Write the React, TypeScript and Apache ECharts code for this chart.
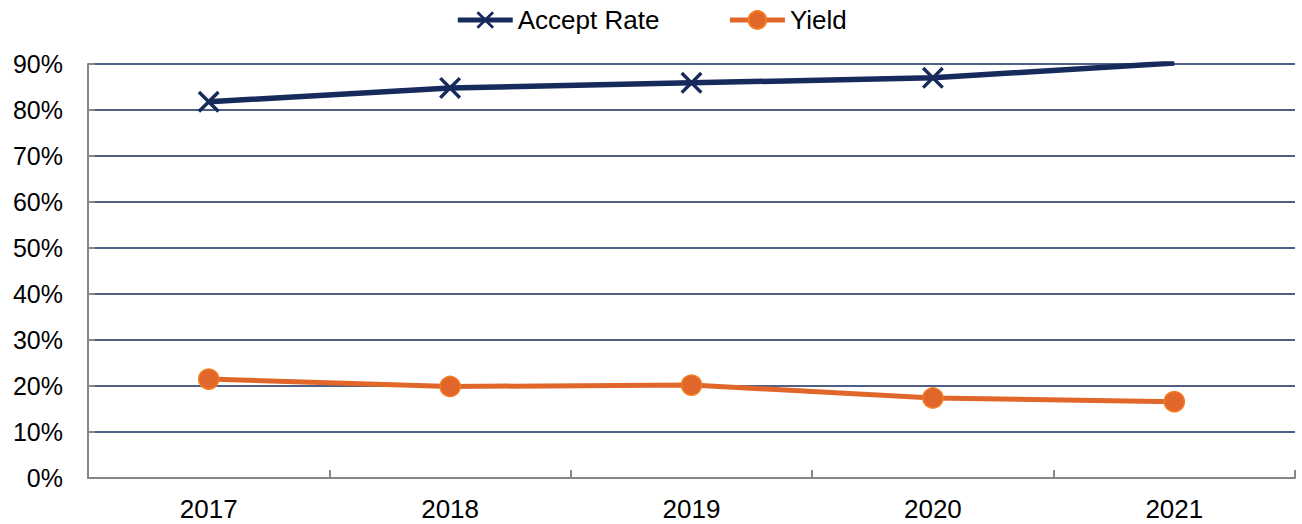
import React, { useEffect, useRef } from "react";
import * as echarts from "echarts";

const years = ["2017", "2018", "2019", "2020", "2021"];
const acceptRate = [81.8, 84.8, 85.9, 87.0, 90.2];
const yieldRate = [21.5, 19.9, 20.2, 17.4, 16.6];
const seriesNames = ["Accept Rate", "Yield"];

const NAVY = "#172a5c";
const ORANGE = "#e0662a";
const GRAY = "#868686";
const FONT = "'Liberation Sans', Arial, sans-serif";

const X_SYMBOL =
  "path://M0,2.2L2.2,0L10,7.8L17.8,0L20,2.2L12.2,10L20,17.8L17.8,20L10,12.2L2.2,20L0,17.8L7.8,10Z";

export default function App() {
  const ref = useRef<HTMLDivElement>(null);
  useEffect(() => {
    if (!ref.current) return;
    const chart = echarts.init(ref.current, null, { renderer: "svg" });
    chart.setOption({
      animation: false,
      textStyle: { fontFamily: FONT },
      legend: {
        top: 2,
        left: "center",
        itemWidth: 55,
        itemHeight: 22,
        itemGap: 68,
        lineStyle: { width: 5 },
        textStyle: { fontSize: 26, color: "#000", fontFamily: FONT },
        data: seriesNames,
      },
      grid: { left: 88, right: 7, top: 64, bottom: 46, containLabel: false },
      xAxis: {
        type: "category",
        data: years,
        boundaryGap: true,
        axisLine: { show: true, lineStyle: { color: GRAY, width: 2 } },
        axisTick: { show: true, inside: true, length: 8, lineStyle: { color: GRAY, width: 2 } },
        axisLabel: { fontSize: 26, color: "#000", margin: 18, fontFamily: FONT },
        splitLine: { show: false },
      },
      yAxis: {
        type: "value",
        min: 0,
        max: 90,
        interval: 10,
        axisLine: { show: true, lineStyle: { color: GRAY, width: 2 } },
        axisTick: { show: true, inside: true, length: 7, lineStyle: { color: GRAY, width: 2 } },
        axisLabel: { fontSize: 25, color: "#000", margin: 25, formatter: "{value}%", fontFamily: FONT },
        splitLine: { show: true, lineStyle: { color: NAVY, width: 1.5 } },
      },
      series: [
        {
          name: seriesNames[0],
          type: "line",
          data: acceptRate,
          clip: true,
          symbol: X_SYMBOL,
          symbolSize: 22,
          lineStyle: { color: NAVY, width: 5.5 },
          itemStyle: { color: NAVY },
          z: 3,
        },
        {
          name: seriesNames[1],
          type: "line",
          data: yieldRate,
          clip: true,
          symbol: "circle",
          symbolSize: 20,
          lineStyle: { color: ORANGE, width: 5 },
          itemStyle: { color: ORANGE, borderColor: "#f47b20", borderWidth: 1.5 },
          z: 3,
        },
      ],
    });
    return () => chart.dispose();
  }, []);
  return (
    <div
      ref={ref}
      style={{ position: "absolute", left: 0, top: 0, width: 1302, height: 524 }}
    />
  );
}
